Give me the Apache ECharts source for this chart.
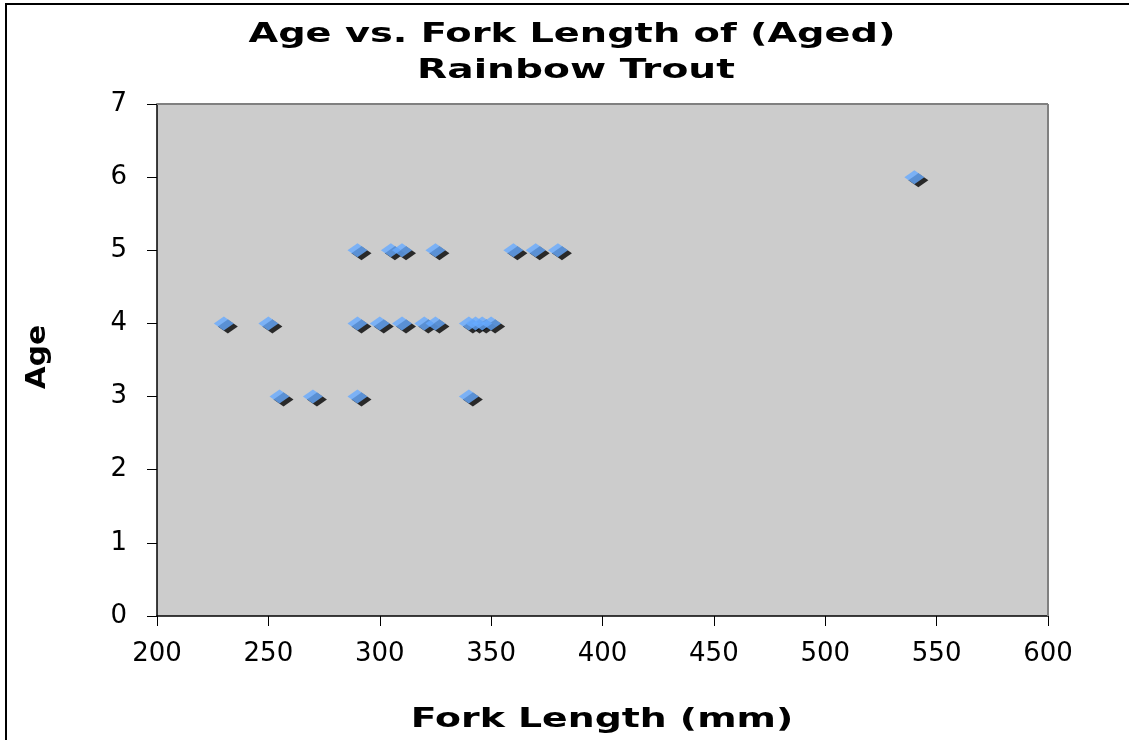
<!DOCTYPE html>
<html><head><meta charset="utf-8">
<script src="https://cdn.jsdelivr.net/npm/echarts@6/dist/echarts.min.js"></script>
<style>html,body{margin:0;padding:0;background:#fff}#c{width:1129px;height:740px}</style>
</head><body><div id="c"></div>
<script>
const forkLength = [230,250,290,300,310,320,325,340,343,346,350, 255,270,290,340, 290,305,310,325,360,370,380, 540];
const ages       = [4,4,4,4,4,4,4,4,4,4,4, 3,3,3,3, 5,5,5,5,5,5,5, 6];
const xTicks = [200,250,300,350,400,450,500,550,600];
const yTicks = [0,1,2,3,4,5,6,7];
const titleLines = ['Age vs. Fork Length of (Aged)', 'Rainbow Trout'];
const xTitle = 'Fork Length (mm)';
const yTitle = 'Age';

const pts = forkLength.map((x,i)=>[x,ages[i]]);
const font = 'DejaVu Sans, Verdana, sans-serif';
function txt(t, x, y, sx, rot){
  return {type:'text', x:x, y:y, scaleX:sx, rotation:rot||0, z:20,
    style:{text:t, x:0, y:0, font:'bold 27px ' + font, fill:'#000',
      align:'center', verticalAlign:'middle', textAlign:'center', textVerticalAlign:'middle'}};
}
const chart = echarts.init(document.getElementById('c'));
chart.setOption({
  animation:false,
  backgroundColor:'#fff',
  graphic:[{type:'rect',shape:{x:6,y:4,width:1140,height:800},style:{fill:'none',stroke:'#000',lineWidth:2},z:-1},
           {type:'line',shape:{x1:157,y1:104,x2:1048,y2:104},style:{stroke:'#808080',lineWidth:2},z:10},
           {type:'line',shape:{x1:1048,y1:104,x2:1048,y2:616},style:{stroke:'#808080',lineWidth:2},z:10},
           txt(titleLines[0], 572, 35, 1.42),
           txt(titleLines[1], 576, 71, 1.45),
           txt(xTitle, 602, 720, 1.4),
           txt(yTitle, 38, 357, 1.1, Math.PI/2)],
  grid:{left:157,top:104,width:891,height:512,show:true,backgroundColor:'#cccccc',borderWidth:0},
  xAxis:{type:'value',min:xTicks[0],max:xTicks[xTicks.length-1],interval:50,
    axisLine:{show:true,lineStyle:{color:'#000',width:1.5}},
    axisTick:{show:true,length:10,lineStyle:{color:'#000'}},
    splitLine:{show:false},
    axisLabel:{fontFamily:font,fontSize:26,color:'#000',margin:25}},
  yAxis:{type:'value',min:yTicks[0],max:yTicks[yTicks.length-1],interval:1,
    axisLine:{show:true,lineStyle:{color:'#000',width:1.5}},
    axisTick:{show:true,length:10,lineStyle:{color:'#000'}},
    splitLine:{show:false},
    axisLabel:{fontFamily:font,fontSize:26,color:'#000',margin:30}},
  series:[
    {type:'scatter',data:pts,symbol:'diamond',symbolSize:[20,14],symbolOffset:[4,3],
      itemStyle:{color:'#000'},z:2,silent:true},
    {type:'scatter',data:pts,symbol:'diamond',symbolSize:[20,14],
      itemStyle:{color:'#66aaff'},z:3}
  ]
});
</script></body></html>
